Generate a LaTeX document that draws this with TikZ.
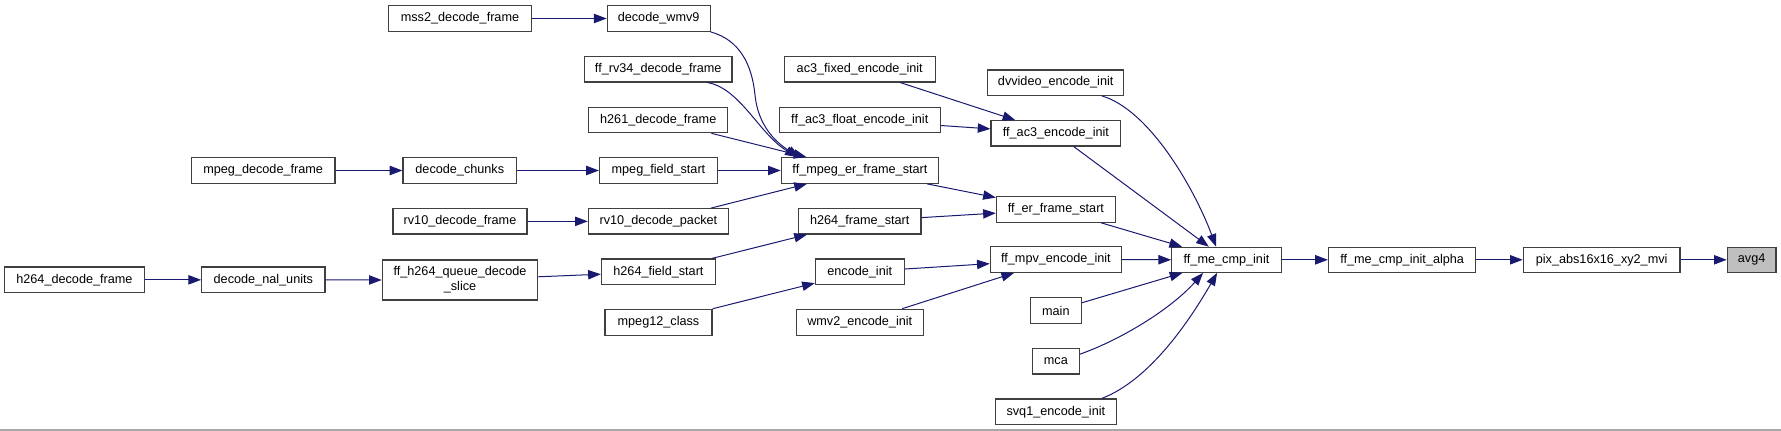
\documentclass[tikz,border=0pt]{standalone}
\usepackage{fontspec}
\setmainfont{Liberation Sans}
\usetikzlibrary{arrows.meta,calc}
\definecolor{edgeblue}{HTML}{191970}
\definecolor{boxline}{HTML}{404040}
\definecolor{hlfill}{HTML}{BFBFBF}
\definecolor{rulegray}{HTML}{A8A8A8}
\newcommand{\fnbox}[7][fn]{\node[#1, minimum width={(#5-#3)*0.75pt}, minimum height={(#6-#4)*0.75pt}] (#2) at ({(#3+#5)/2},{(#4+#6)/2}) {#7};}
\begin{document}
\begin{tikzpicture}[x=0.75pt,y=-0.75pt,
  fn/.style={draw=boxline, line width=0.9pt, fill=white, inner sep=0pt, font=\fontsize{9.5pt}{11.25pt}\selectfont, align=center},
  hl/.style={fn, fill=hlfill},
  edge/.style={draw=edgeblue, line width=0.75pt, -{Triangle[length=9.5pt,width=7pt]}}]
\useasboundingbox (0,0) rectangle (1781,431);
\draw[rulegray, line width=0.9pt] (0,430) -- (1781,430);
% nodes
\fnbox{mss2}{388.4}{5.7}{531.6}{31.3}{mss2\_decode\_frame}
\fnbox{wmv9}{607.2}{5.7}{710.1}{31.3}{decode\_wmv9}
\fnbox{rv34}{584.6}{56.7}{731.9}{82}{ff\_rv34\_decode\_frame}
\fnbox{h261}{588.8}{107.3}{727.7}{132.7}{h261\_decode\_frame}
\fnbox{mpegdf}{191.4}{157.7}{334.9}{183.3}{mpeg\_decode\_frame}
\fnbox{chunks}{403}{157.7}{516.6}{183.3}{decode\_chunks}
\fnbox{mfs}{599.5}{157.7}{717.4}{183.3}{mpeg\_field\_start}
\fnbox{mer}{781.3}{157.7}{938.6}{183.3}{ff\_mpeg\_er\_frame\_start}
\fnbox{rv10f}{393}{208.7}{527}{234}{rv10\_decode\_frame}
\fnbox{rv10p}{588.4}{208.7}{728.5}{234}{rv10\_decode\_packet}
\fnbox{hfs}{798.5}{208.7}{921}{234}{h264\_frame\_start}
\fnbox{h264df}{4.6}{267}{144.3}{292.7}{h264\_decode\_frame}
\fnbox{nal}{201.7}{267}{325}{292.7}{decode\_nal\_units}
\fnbox{queue}{382.3}{260}{537.7}{300}{ff\_h264\_queue\_decode\\\_slice}
\fnbox{hfield}{601.4}{259}{715.5}{284.7}{h264\_field\_start}
\fnbox{m12}{604.9}{309.3}{712}{335.3}{mpeg12\_class}
\fnbox{enc}{815.4}{259}{904.1}{284.7}{encode\_init}
\fnbox{wmv2}{796.2}{309.3}{923.3}{335.3}{wmv2\_encode\_init}
\fnbox{ac3fix}{784.4}{56.7}{935.1}{82}{ac3\_fixed\_encode\_init}
\fnbox{ac3flt}{779.4}{107.3}{940.1}{132.7}{ff\_ac3\_float\_encode\_init}
\fnbox{dv}{987.6}{70}{1123.8}{95.3}{dvvideo\_encode\_init}
\fnbox{ac3}{991}{120.7}{1120.8}{146}{ff\_ac3\_encode\_init}
\fnbox{er}{996.4}{196.7}{1115.4}{222.3}{ff\_er\_frame\_start}
\fnbox{mpv}{990.3}{246.7}{1121.5}{272.3}{ff\_mpv\_encode\_init}
\fnbox{main}{1030.4}{297.7}{1081.3}{323.3}{main}
\fnbox{mca}{1032.3}{348.3}{1079.4}{374}{mca}
\fnbox{svq1}{995.2}{399}{1116.5}{424.7}{svq1\_encode\_init}
\fnbox{mecmp}{1171.7}{247.3}{1281.3}{272.3}{ff\_me\_cmp\_init}
\fnbox{alpha}{1328.5}{247.3}{1475.8}{272.3}{ff\_me\_cmp\_init\_alpha}
\fnbox{pix}{1523.3}{247.3}{1680}{272.3}{pix\_abs16x16\_xy2\_mvi}
\fnbox[hl]{avg}{1727.3}{247.3}{1776}{272.3}{avg4}
% edges
\draw[edge] (mss2.east) -- (wmv9.west);
\draw[edge] (wmv9.south east) .. controls (740,40) and (752,65) .. (755,95) .. controls (758,125) and (775,142) .. ($(mer.north west)+(19,0)$);
\draw[edge] ($(rv34.south west)+(123.5,0)$) .. controls (740,88) and (760,135) .. ($(mer.north west)+(17,0)$);
\draw[edge] (h261) -- (mer);
\draw[edge] (mpegdf.east) -- (chunks.west);
\draw[edge] (chunks.east) -- (mfs.west);
\draw[edge] (mfs.east) -- (mer.west);
\draw[edge] (rv10f.east) -- (rv10p.west);
\draw[edge] (rv10p) -- (mer);
\draw[edge] (mer) -- (er);
\draw[edge] (hfs) -- (er);
\draw[edge] (h264df.east) -- (nal.west);
\draw[edge] (nal.east) -- (queue.west);
\draw[edge] (queue) -- (hfield);
\draw[edge] (hfield) -- (hfs);
\draw[edge] (ac3fix) -- (ac3);
\draw[edge] (ac3flt) -- (ac3);
\draw[edge] (ac3) -- (mecmp);
\draw[edge] ($(dv.south west)+(114.8,0)$) .. controls (1150,110) and (1195,190) .. ($(mecmp.north west)+(45,0)$);
\draw[edge] (er) -- (mecmp);
\draw[edge] (mpv.east) -- (mecmp.west);
\draw[edge] (enc) -- (mpv);
\draw[edge] (m12) -- (enc);
\draw[edge] (wmv2) -- (mpv);
\draw[edge] (main) -- (mecmp);
\draw[edge] ($(mca.east)+(0,-7)$) .. controls (1120,340) and (1170,310) .. ($(mecmp.south west)+(32,0)$);
\draw[edge] ($(svq1.north west)+(107.2,0)$) .. controls (1150,380) and (1190,320) .. ($(mecmp.south west)+(46,0)$);
\draw[edge] (mecmp.east) -- (alpha.west);
\draw[edge] (alpha.east) -- (pix.west);
\draw[edge] (pix.east) -- (avg.west);
\end{tikzpicture}
\end{document}
